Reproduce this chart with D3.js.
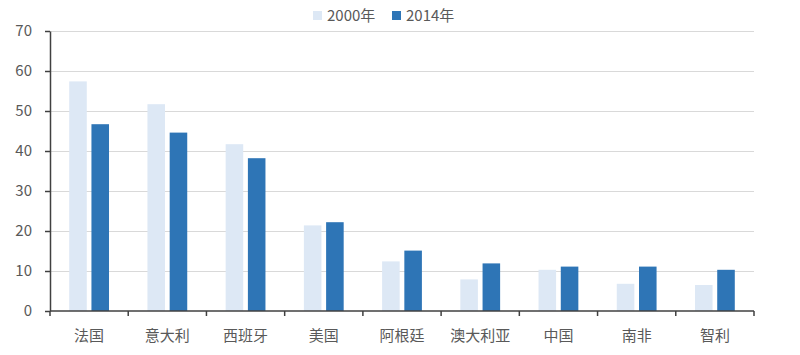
<html>
<head>
	<meta charset="utf-8">
	<title>bars</title>
	<script src="https://d3js.org/d3.v7.min.js"></script>
	<style>
		body { margin: 0; background: #fff; }
		text { font-family: "Noto Sans CJK SC", "Noto Sans", sans-serif; fill: #595959; }
		.grid line { stroke: #d9d9d9; stroke-width: 1; }
	</style>
</head>
<body>
	<svg id="chart" width="800" height="355"></svg>
<script>

// data
var categories = ["法国", "意大利", "西班牙", "美国", "阿根廷", "澳大利亚", "中国", "南非", "智利"];
var seriesNames = ["2000年", "2014年"];
var values2000 = [57.4, 51.7, 41.7, 21.4, 12.4, 7.9, 10.3, 6.8, 6.5];
var values2014 = [46.7, 44.6, 38.2, 22.2, 15.1, 11.9, 11.1, 11.1, 10.3];
var yTicks = [0, 10, 20, 30, 40, 50, 60, 70];

var colors = { "2000年": "#dde8f5", "2014年": "#2e75b6" };

var svg = d3.select("#chart");
var margin = { top: 31, right: 46, bottom: 44, left: 50 };
var width = 800 - margin.left - margin.right;
var height = 355 - margin.top - margin.bottom;

var g = svg.append("g")
	.attr("transform", "translate(" + margin.left + "," + margin.top + ")");

var x0 = d3.scaleBand()
	.domain(categories)
	.range([0, width])
	.padding(0);

var x1 = d3.scaleBand()
	.domain(seriesNames)
	.range([-19.9, 19.9])
	.paddingInner(0.21);

var y = d3.scaleLinear()
	.domain([0, 70])
	.range([height, 0]);

// gridlines
var gridG = g.append("g").attr("class", "grid");
gridG.selectAll("line")
	.data(yTicks.filter(function(d) { return d > 0; }))
	.enter().append("line")
		.attr("x1", 0)
		.attr("x2", width)
		.attr("y1", function(d) { return Math.round(y(d)) + 0.5; })
		.attr("y2", function(d) { return Math.round(y(d)) + 0.5; });

// bars
var rows = categories.map(function(c, i) {
	return { cat: c, vals: [
		{ s: seriesNames[0], v: values2000[i] },
		{ s: seriesNames[1], v: values2014[i] }
	] };
});

var catG = g.selectAll(".cat")
	.data(rows)
	.enter().append("g")
		.attr("class", "cat")
		.attr("transform", function(d) { return "translate(" + (x0(d.cat) + x0.bandwidth() / 2) + ",0)"; });

catG.selectAll("rect")
	.data(function(d) { return d.vals; })
	.enter().append("rect")
		.attr("x", function(d) { return x1(d.s); })
		.attr("width", x1.bandwidth())
		.attr("y", function(d) { return y(d.v); })
		.attr("height", function(d) { return height - y(d.v); })
		.attr("fill", function(d) { return colors[d.s]; });

// y axis
var yAxis = g.append("g")
	.call(d3.axisLeft(y).tickValues(yTicks).tickSize(5).tickPadding(13).tickSizeOuter(0));
yAxis.select(".domain").attr("stroke", "#404040").attr("stroke-width", 1.5);
yAxis.selectAll(".tick line").attr("stroke", "#404040").attr("stroke-width", 1.5);
yAxis.selectAll("text").attr("font-size", 15).attr("fill", "#595959");

// x axis: ticks at category boundaries
var xAxisG = g.append("g")
	.attr("transform", "translate(0," + height + ")");
xAxisG.append("line")
	.attr("x1", 0).attr("x2", width)
	.attr("stroke", "#404040").attr("stroke-width", 1.5);
var bounds = categories.map(function(c) { return x0(c); }).concat([width]);
xAxisG.selectAll(".xtick")
	.data(bounds)
	.enter().append("line")
		.attr("x1", function(d) { return d; })
		.attr("x2", function(d) { return d; })
		.attr("y1", 0).attr("y2", 5)
		.attr("stroke", "#404040").attr("stroke-width", 1.5);
xAxisG.selectAll(".xlabel")
	.data(categories)
	.enter().append("text")
		.attr("x", function(d) { return x0(d) + x0.bandwidth() / 2; })
		.attr("y", 25)
		.attr("dy", "0.35em")
		.attr("text-anchor", "middle")
		.attr("font-size", 15)
		.text(function(d) { return d; });

// legend
var legend = svg.append("g").attr("class", "legend");
var legX = [313, 392];
seriesNames.forEach(function(s, i) {
	legend.append("rect")
		.attr("x", legX[i]).attr("y", 11)
		.attr("width", 9).attr("height", 9)
		.attr("fill", colors[s]);
	legend.append("text")
		.attr("x", legX[i] + 14).attr("y", 16)
		.attr("dy", "0.35em")
		.attr("font-size", 15)
		.text(s);
});

</script>
</body>
</html>
